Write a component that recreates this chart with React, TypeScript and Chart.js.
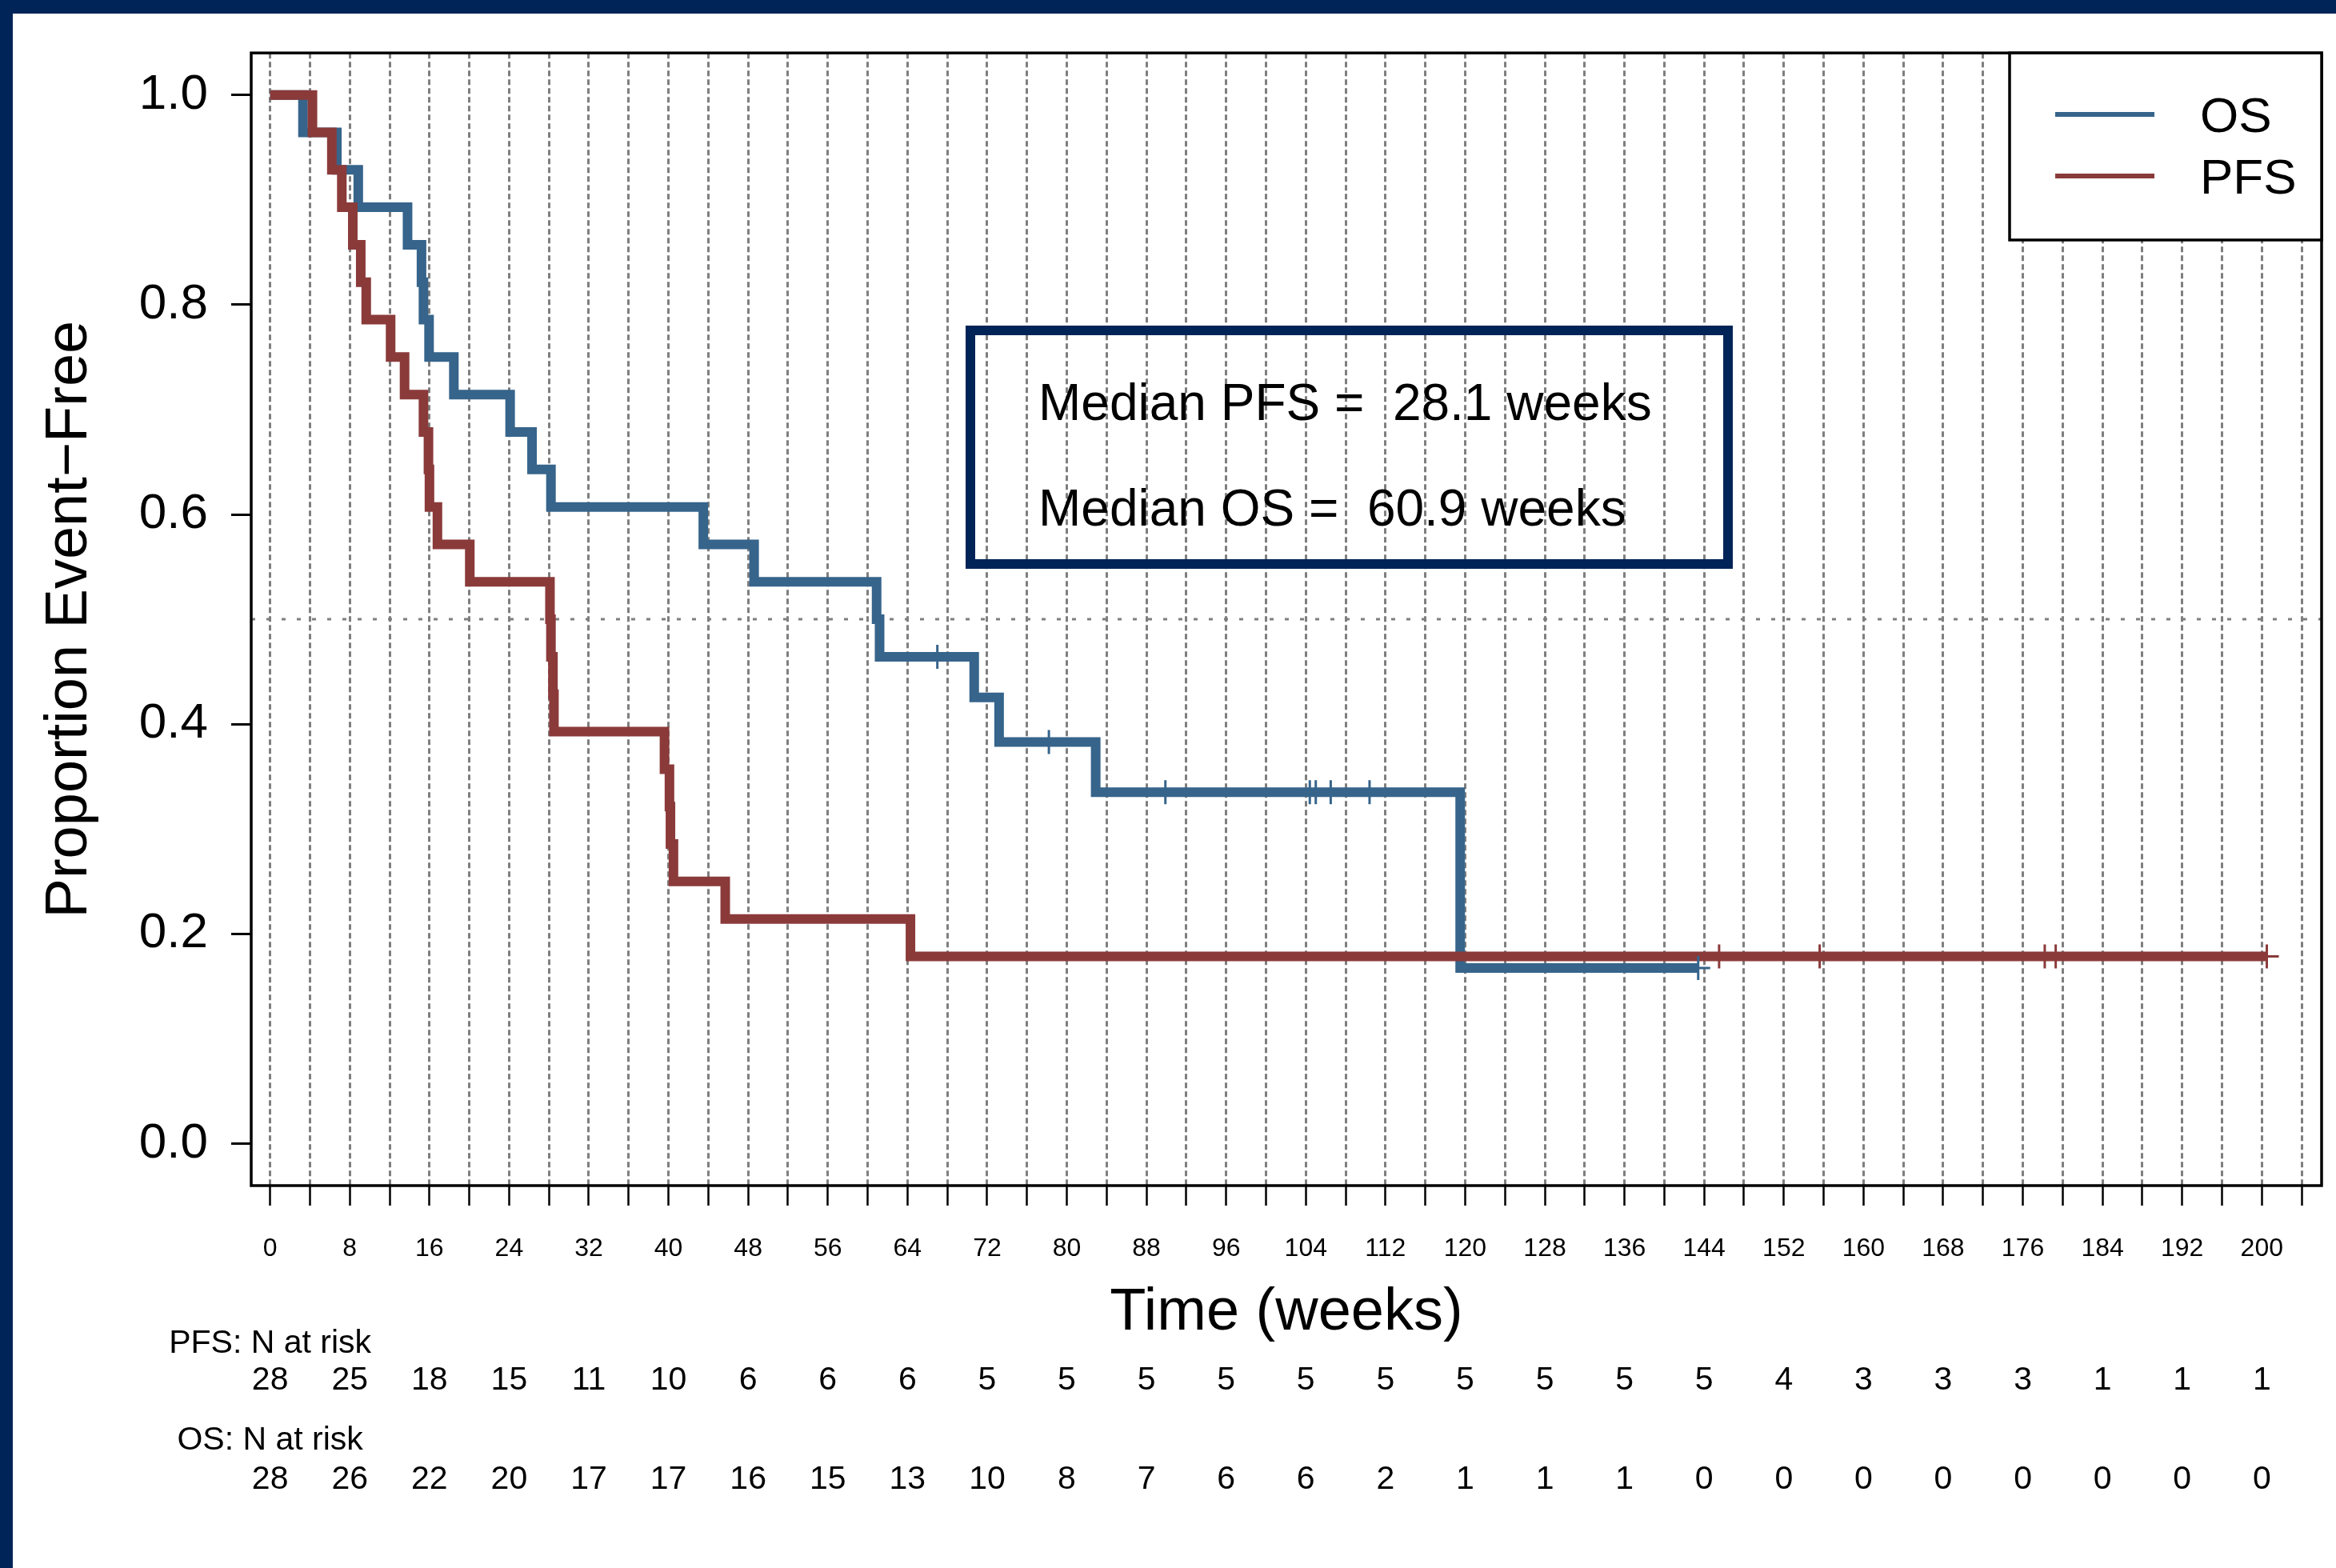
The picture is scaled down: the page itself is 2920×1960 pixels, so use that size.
import React, { useEffect, useRef } from 'react';
import { Chart, registerables } from 'chart.js';

Chart.register(...registerables);

const FONT = '"Liberation Sans", Arial, Helvetica, sans-serif';
const NAVY = '#002458';
const OS_COLOR = '#36648B';
const PFS_COLOR = '#8B3A3A';

// Kaplan-Meier step data (weeks, proportion event-free)
const osTimes = [0, 3.3, 6.7, 8.85, 13.8, 15.2, 15.4, 15.96, 18.45, 24.1, 26.3, 28.2, 43.5, 48.6, 60.9, 61.2, 70.7, 73.2, 82.9, 119.5, 143.4];
const osSurv = [1, 0.9643, 0.9286, 0.8929, 0.8571, 0.8214, 0.7857, 0.75, 0.7143, 0.6786, 0.6429, 0.6071, 0.5714, 0.5357, 0.5, 0.4643, 0.4256, 0.383, 0.3351, 0.1675, 0.1675];

const pfsTimes = [0, 4.25, 6.2, 7.2, 8.3, 9.1, 9.65, 12.1, 13.5, 15.4, 15.9, 16.0, 16.8, 20.05, 28.1, 28.2, 28.4, 28.5, 39.6, 40.1, 40.2, 40.5, 45.7, 64.3, 200.5];
const pfsSurv = [1, 0.9643, 0.9286, 0.8929, 0.8571, 0.8214, 0.7857, 0.75, 0.7143, 0.6786, 0.6429, 0.6071, 0.5714, 0.5357, 0.5, 0.4643, 0.4286, 0.3929, 0.3571, 0.3214, 0.2857, 0.25, 0.2143, 0.1786, 0.1786];

// Censoring marks
const osCensorTimes = [67.0, 78.2, 89.9, 104.4, 105.0, 106.5, 110.4, 143.4];
const osCensorSurv = [0.4643, 0.383, 0.3351, 0.3351, 0.3351, 0.3351, 0.3351, 0.1675];
const pfsCensorTimes = [145.5, 155.6, 178.2, 179.3, 200.5];
const pfsCensorSurv = [0.1786, 0.1786, 0.1786, 0.1786, 0.1786];

// Axis ticks
const xTickValues = Array.from({ length: 52 }, (_, i) => i * 4); // 0..204
const yTickValues = [0, 0.2, 0.4, 0.6, 0.8, 1.0];

// Number at risk table
const riskTimes = [0, 8, 16, 24, 32, 40, 48, 56, 64, 72, 80, 88, 96, 104, 112, 120, 128, 136, 144, 152, 160, 168, 176, 184, 192, 200];
const pfsAtRisk = [28, 25, 18, 15, 11, 10, 6, 6, 6, 5, 5, 5, 5, 5, 5, 5, 5, 5, 5, 4, 3, 3, 3, 1, 1, 1];
const osAtRisk = [28, 26, 22, 20, 17, 17, 16, 15, 13, 10, 8, 7, 6, 6, 2, 1, 1, 1, 0, 0, 0, 0, 0, 0, 0, 0];

const medianReference = 0.5;
const medianLines = ['Median PFS =  28.1 weeks', 'Median OS =  60.9 weeks'];
const legendLabels = ['OS', 'PFS'];

const toPoints = (xs: number[], ys: number[]) => xs.map((x, i) => ({ x, y: ys[i] }));

const decorPlugin = {
  id: 'decor',
  beforeDraw(chart: any) {
    const ctx = chart.ctx;
    ctx.save();
    ctx.fillStyle = '#ffffff';
    ctx.fillRect(0, 0, chart.width, chart.height);
    ctx.fillStyle = NAVY;
    ctx.fillRect(0, 0, chart.width, 17);
    ctx.fillRect(0, 0, 16, chart.height);
    ctx.restore();
  },
  beforeDatasetsDraw(chart: any) {
    const { ctx, chartArea: a, scales } = chart;
    const py = scales.y.getPixelForValue(medianReference);
    ctx.save();
    ctx.strokeStyle = '#7f7f7f';
    ctx.lineWidth = 3;
    ctx.setLineDash([5, 14]);
    ctx.beginPath();
    ctx.moveTo(a.left, py);
    ctx.lineTo(a.right, py);
    ctx.stroke();
    ctx.restore();
  },
  afterDatasetsDraw(chart: any) {
    const { ctx, chartArea: a, scales } = chart;
    const xs = scales.x;
    ctx.save();
    // plot box
    ctx.strokeStyle = '#000';
    ctx.lineWidth = 3.5;
    ctx.setLineDash([]);
    ctx.strokeRect(a.left, a.top, a.right - a.left, a.bottom - a.top);

    // legend box
    const lx = 2512;
    const lb = 300;
    ctx.fillStyle = '#fff';
    ctx.fillRect(lx, a.top, a.right - lx, lb - a.top);
    ctx.strokeRect(lx, a.top, a.right - lx, lb - a.top);
    const legendColors = [OS_COLOR, PFS_COLOR];
    const legendY = [143, 220];
    ctx.lineWidth = 6;
    ctx.lineCap = 'butt';
    legendLabels.forEach((lab, i) => {
      ctx.strokeStyle = legendColors[i];
      ctx.beginPath();
      ctx.moveTo(2569, legendY[i]);
      ctx.lineTo(2693, legendY[i]);
      ctx.stroke();
      ctx.fillStyle = '#000';
      ctx.font = `62px ${FONT}`;
      ctx.textAlign = 'left';
      ctx.textBaseline = 'alphabetic';
      ctx.fillText(lab, 2750, legendY[i] + 22);
    });

    // median box
    ctx.strokeStyle = NAVY;
    ctx.lineWidth = 12;
    ctx.strokeRect(1213, 413, 947, 292);
    ctx.fillStyle = '#000';
    ctx.font = `64px ${FONT}`;
    ctx.textAlign = 'left';
    ctx.textBaseline = 'alphabetic';
    ctx.fillText(medianLines[0], 1298, 525);
    ctx.fillText(medianLines[1], 1298, 657);

    // number at risk
    ctx.font = `41px ${FONT}`;
    ctx.textAlign = 'center';
    const x0 = xs.getPixelForValue(0);
    ctx.fillText('PFS: N at risk', x0, 1691);
    ctx.fillText('OS: N at risk', x0, 1812);
    riskTimes.forEach((t, i) => {
      const px = xs.getPixelForValue(t);
      ctx.fillText(String(pfsAtRisk[i]), px, 1737);
      ctx.fillText(String(osAtRisk[i]), px, 1861);
    });
    ctx.restore();
  },
};

export default function App() {
  const ref = useRef<HTMLCanvasElement | null>(null);

  useEffect(() => {
    if (!ref.current) return;
    const chart = new Chart(ref.current, {
      type: 'line',
      data: {
        datasets: [
          {
            label: 'PFS censored',
            data: toPoints(pfsCensorTimes, pfsCensorSurv),
            showLine: false,
            pointStyle: 'cross',
            pointRadius: 15,
            pointBorderWidth: 3,
            pointBorderColor: PFS_COLOR,
            borderColor: PFS_COLOR,
            order: 0,
          },
          {
            label: 'OS censored',
            data: toPoints(osCensorTimes, osCensorSurv),
            showLine: false,
            pointStyle: 'cross',
            pointRadius: 15,
            pointBorderWidth: 3,
            pointBorderColor: OS_COLOR,
            borderColor: OS_COLOR,
            order: 1,
          },
          {
            label: 'PFS',
            data: toPoints(pfsTimes, pfsSurv),
            stepped: 'before',
            borderColor: PFS_COLOR,
            borderWidth: 12,
            borderJoinStyle: 'miter',
            borderCapStyle: 'butt',
            pointRadius: 0,
            fill: false,
            order: 2,
          },
          {
            label: 'OS',
            data: toPoints(osTimes, osSurv),
            stepped: 'before',
            borderColor: OS_COLOR,
            borderWidth: 12,
            borderJoinStyle: 'miter',
            borderCapStyle: 'butt',
            pointRadius: 0,
            fill: false,
            order: 3,
          },
        ],
      },
      options: {
        responsive: false,
        animation: false,
        devicePixelRatio: 1,
        layout: { padding: { left: 0, top: 66, right: 17, bottom: 274 } },
        plugins: {
          legend: { display: false },
          tooltip: { enabled: false },
        },
        scales: {
          x: {
            type: 'linear',
            min: -1.9,
            max: 206,
            afterFit: (s: any) => {
              s.height = 204;
            },
            afterBuildTicks: (s: any) => {
              s.ticks = xTickValues.map((v) => ({ value: v }));
            },
            ticks: {
              autoSkip: false,
              maxRotation: 0,
              minRotation: 0,
              padding: 35,
              color: '#000',
              font: { family: FONT, size: 32 },
              callback: (v: any) => (Number(v) % 8 === 0 ? String(v) : ''),
            },
            grid: {
              color: '#7f7f7f',
              lineWidth: 3,
              drawOnChartArea: true,
              drawTicks: true,
              tickLength: 25,
              tickColor: '#000',
              tickWidth: 2.5,
            },
            border: { display: false, dash: [7, 4] },
            title: {
              display: true,
              text: 'Time (weeks)',
              color: '#000',
              font: { family: FONT, size: 74 },
              padding: 0,
            },
          },
          y: {
            type: 'linear',
            min: -0.04,
            max: 1.04,
            afterFit: (s: any) => {
              s.width = 314;
            },
            afterBuildTicks: (s: any) => {
              s.ticks = yTickValues.map((v) => ({ value: v }));
            },
            ticks: {
              padding: 29,
              color: '#000',
              font: { family: FONT, size: 62 },
              callback: (v: any) => Number(v).toFixed(1),
            },
            grid: {
              color: '#000',
              drawOnChartArea: false,
              drawTicks: true,
              tickLength: 25,
              tickColor: '#000',
              tickWidth: 3,
            },
            border: { display: false },
            title: {
              display: true,
              text: 'Proportion Event\u2212Free',
              color: '#000',
              font: { family: FONT, size: 74 },
              padding: { top: 43, bottom: 0 },
            },
          },
        },
      },
      plugins: [decorPlugin],
    } as any);
    return () => chart.destroy();
  }, []);

  return (
    <div style={{ position: 'fixed', left: 0, top: 0, width: 2920, height: 1960, background: '#fff' }}>
      <canvas ref={ref} width={2920} height={1960} style={{ display: 'block', width: 2920, height: 1960 }} />
    </div>
  );
}
